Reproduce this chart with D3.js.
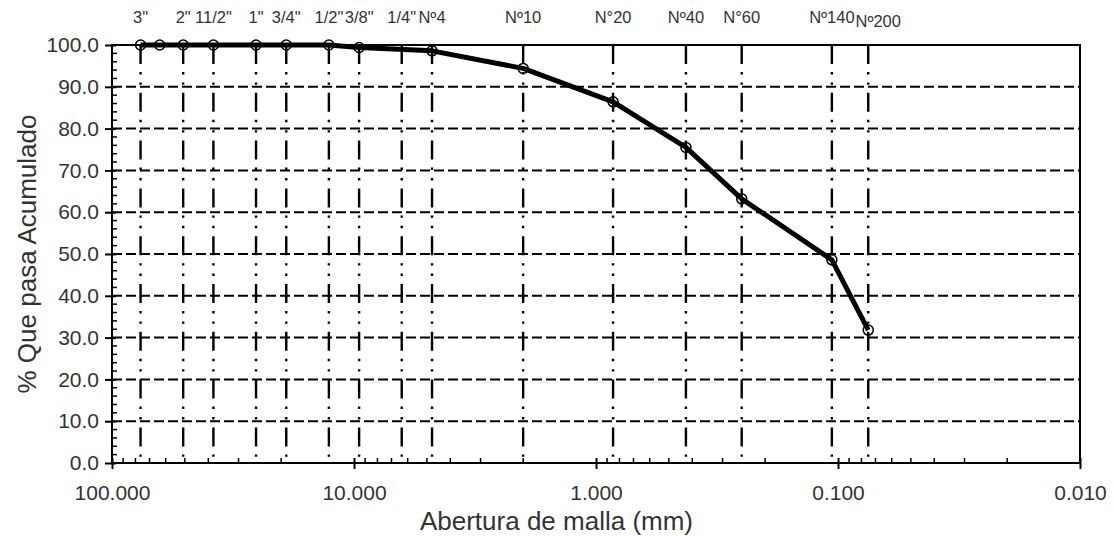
<!DOCTYPE html>
<html>
<head>
<meta charset="utf-8">
<script src="https://cdn.jsdelivr.net/npm/d3@7"></script>
<style>
  html, body { margin: 0; padding: 0; background: #fff; }
  svg { display: block; }
  text { font-family: "Liberation Sans", Arial, sans-serif; }
</style>
</head>
<body>
<svg id="chart" width="1113" height="536"></svg>
<script>
// Granulometric curve: cumulative percent passing vs sieve opening (mm)
const pointSizes = [76.2, 63.5, 50.8, 38.1, 25.4, 19.05, 12.7, 9.525, 4.76, 2.0, 0.85, 0.425, 0.25, 0.106, 0.075];
const pointPassing = [100.0, 100.0, 100.0, 100.0, 100.0, 100.0, 100.0, 99.4, 98.6, 94.4, 86.4, 75.5, 63.2, 48.6, 31.8];

// Sieve reference lines and their names
const sieveNames = ['3"', '2"', '11/2"', '1"', '3/4"', '1/2"', '3/8"', '1/4"', 'Nº4', 'Nº10', 'N°20', 'Nº40', 'N°60', 'Nº140', 'Nº200'];
const sieveSizes = [76.2, 50.8, 38.1, 25.4, 19.05, 12.7, 9.525, 6.35, 4.76, 2.0, 0.85, 0.425, 0.25, 0.106, 0.075];

const xTickValues = [100, 10, 1, 0.1, 0.01];
const yTickValues = [0, 10, 20, 30, 40, 50, 60, 70, 80, 90, 100];

const xTitle = "Abertura de malla (mm)";
const yTitle = "% Que pasa Acumulado";

const svg = d3.select("#chart");
const W = 1113, H = 536;
const plotL = 112, plotR = 1080, plotT = 45, plotB = 463;

const x = d3.scaleLog().domain([100, 0.01]).range([plotL, plotR]);
const y = d3.scaleLinear().domain([0, 100]).range([plotB, plotT]);

const ink = "#000";
const textColor = "#333";
const fontFamily = '"Liberation Sans", Arial, sans-serif';

// horizontal dashed gridlines
svg.append("g").selectAll("line")
  .data(yTickValues.filter(v => v > 0 && v < 100))
  .join("line")
  .attr("x1", plotL).attr("x2", plotR)
  .attr("y1", d => y(d)).attr("y2", d => y(d))
  .attr("stroke", ink).attr("stroke-width", 2)
  .attr("stroke-dasharray", "10,4");

// sieve reference lines (long dash - dot - dot)
svg.append("g").selectAll("line")
  .data(sieveSizes)
  .join("line")
  .attr("x1", d => x(d)).attr("x2", d => x(d))
  .attr("y1", plotT).attr("y2", plotB)
  .attr("stroke", ink).attr("stroke-width", 2.4)
  .attr("stroke-dasharray", "19,8,2.4,8,2.4,8");

// sieve names above the plot
svg.append("g").selectAll("text")
  .data(sieveNames)
  .join("text")
  .attr("x", (d, i) => x(sieveSizes[i]) + (d === 'Nº200' ? 10 : 0))
  .attr("y", d => d === 'Nº200' ? 27 : 23)
  .attr("text-anchor", "middle")
  .attr("font-size", 16.5)
  .attr("fill", textColor)
  .text(d => d);

// plot frame
svg.append("rect")
  .attr("x", plotL).attr("y", plotT)
  .attr("width", plotR - plotL).attr("height", plotB - plotT)
  .attr("fill", "none").attr("stroke", ink).attr("stroke-width", 2);

// y axis: major ticks crossing, minor ticks inside every 2 %
const yMinor = d3.range(0, 101, 2).filter(v => v % 10 !== 0);
svg.append("g").selectAll("line")
  .data(yMinor).join("line")
  .attr("x1", plotL).attr("x2", plotL + 5)
  .attr("y1", d => y(d)).attr("y2", d => y(d))
  .attr("stroke", ink).attr("stroke-width", 1.5);

const yAxis = d3.axisLeft(y).tickValues(yTickValues)
  .tickFormat(d3.format(".1f")).tickSize(7).tickPadding(6);
const yg = svg.append("g").attr("transform", `translate(${plotL},0)`).call(yAxis);
yg.select(".domain").remove();
yg.selectAll(".tick line").attr("stroke", ink).attr("stroke-width", 2).attr("x2", -7).attr("x1", 4);
yg.selectAll(".tick text").attr("font-size", 21).attr("fill", textColor)
  .style("font-family", fontFamily);

// x axis: decade major ticks, log minor ticks inside
const xMinor = [];
[100, 10, 1, 0.1].forEach(dec => {
  for (let k = 2; k <= 9; k++) xMinor.push(dec / 10 * k);
});
svg.append("g").selectAll("line")
  .data(xMinor).join("line")
  .attr("x1", d => x(d)).attr("x2", d => x(d))
  .attr("y1", plotB).attr("y2", plotB - 5)
  .attr("stroke", ink).attr("stroke-width", 1.5);

const xAxis = d3.axisBottom(x).tickValues(xTickValues)
  .tickFormat(d3.format(".3f")).tickSize(6).tickPadding(16);
const xg = svg.append("g").attr("transform", `translate(0,${plotB})`).call(xAxis);
xg.select(".domain").remove();
xg.selectAll(".tick line").attr("stroke", ink).attr("stroke-width", 2).attr("y1", -5);
xg.selectAll(".tick text").attr("font-size", 21).attr("fill", textColor)
  .style("font-family", fontFamily);

// gradation curve
const pts = pointSizes.map((s, i) => [s, pointPassing[i]]);
svg.append("path")
  .datum(pts)
  .attr("fill", "none").attr("stroke", ink).attr("stroke-width", 5)
  .attr("stroke-linejoin", "round")
  .attr("d", d3.line().x(d => x(d[0])).y(d => y(d[1])));

svg.append("g").selectAll("circle")
  .data(pts).join("circle")
  .attr("cx", d => x(d[0])).attr("cy", d => y(d[1]))
  .attr("r", 5)
  .attr("fill", "none").attr("stroke", ink).attr("stroke-width", 1.5);

// axis titles (centred on the whole chart area)
svg.append("text")
  .attr("x", W / 2).attr("y", 530)
  .attr("text-anchor", "middle").attr("font-size", 26).attr("fill", textColor)
  .text(xTitle);

svg.append("text")
  .attr("transform", `translate(36,${254}) rotate(-90)`)
  .attr("text-anchor", "middle").attr("font-size", 26).attr("fill", textColor)
  .text(yTitle);
</script>
</body>
</html>
